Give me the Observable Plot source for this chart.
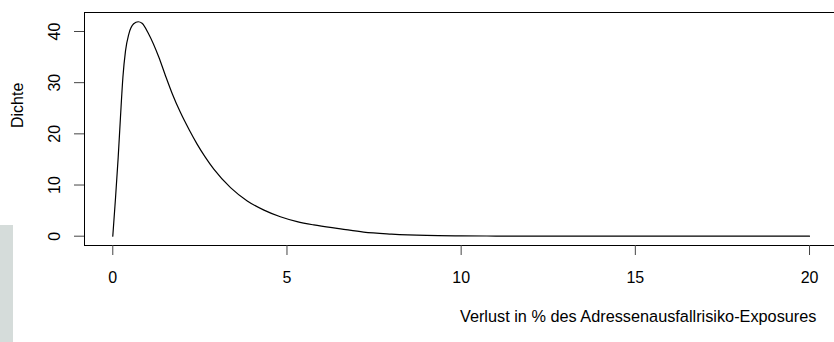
<!DOCTYPE html>
<html>
<head>
<meta charset="utf-8">
<script src="https://cdn.jsdelivr.net/npm/d3@7"></script>
<script src="https://cdn.jsdelivr.net/npm/@observablehq/plot@0.6"></script>
<style>
  html, body { margin: 0; padding: 0; background: #fff; }
  #wrap { position: relative; width: 834px; height: 342px; overflow: hidden; }
  #band { position: absolute; left: 0; top: 225px; width: 13px; height: 117px; background: #d5dcda; }
  #chart { position: absolute; left: 0; top: 0; }
</style>
</head>
<body>
<div id="wrap"><div id="band"></div><div id="chart"></div></div>
<script>
// Loss in % (x) and density (y)
const lossPct = [0, 0.08, 0.155, 0.22, 0.29, 0.365, 0.46, 0.6, 0.73, 0.84, 1.03, 1.32, 1.5, 1.71, 1.94, 2.2, 2.42, 2.65, 2.9, 3.38, 3.86, 4.34, 4.81, 5.29, 5.77, 6.54, 7.2, 8.0, 9.0, 10.0, 11, 12, 14, 16, 18, 20];
const density = [0, 7.6, 15.4, 23.2, 31.0, 36.2, 39.5, 41.5, 41.9, 41.6, 39.5, 35.0, 31.6, 27.8, 24.2, 20.7, 18.0, 15.5, 13.1, 9.5, 6.9, 5.1, 3.8, 2.85, 2.2, 1.44, 0.8, 0.42, 0.15, 0.06, 0.03, 0.01, 0, 0, 0, 0];
const xTicks = [0, 5, 10, 15, 20];
const yTicks = [0, 10, 20, 30, 40];
const xLabel = "Verlust in % des Adressenausfallrisiko-Exposures";
const yLabel = "Dichte";

const data = lossPct.map((x, i) => ({x, y: density[i]}));
const xDomain = [-0.812, 20.717];
const yDomain = [-1.817, 43.71];
const font = "Liberation Sans, Arial, Helvetica, sans-serif";

const chart = Plot.plot({
  width: 834,
  height: 342,
  marginLeft: 84,
  marginRight: 0,
  marginTop: 12,
  marginBottom: 97,
  style: {fontFamily: font, fontSize: "16px", background: "transparent", overflow: "visible"},
  x: {domain: xDomain, axis: null},
  y: {domain: yDomain, axis: null},
  marks: [
    // frame (top, bottom, left)
    Plot.ruleY([yDomain[1], yDomain[0]], {stroke: "#000", strokeWidth: 1}),
    Plot.ruleX([xDomain[0]], {stroke: "#000", strokeWidth: 1}),
    // ticks
    Plot.axisX({ticks: xTicks, tickSize: 10, tickFormat: () => "", stroke: "#444", anchor: "bottom", label: null}),
    Plot.axisY({ticks: yTicks, tickSize: 10, tickFormat: () => "", stroke: "#444", anchor: "left", label: null}),
    // tick labels
    Plot.text(xTicks, {x: d => d, text: d => String(d), frameAnchor: "bottom", dy: 32, lineAnchor: "middle", fill: "#000", fontSize: 16}),
    Plot.text(yTicks, {y: d => d, text: d => String(d), frameAnchor: "left", dx: -30, rotate: -90, lineAnchor: "middle", textAnchor: "middle", fill: "#000", fontSize: 16}),
    // axis titles
    Plot.text([xLabel], {frameAnchor: "bottom-right", dx: -18, dy: 71, textAnchor: "end", lineAnchor: "middle", fill: "#000", fontSize: 16.3}),
    Plot.text([yLabel], {frameAnchor: "left", dx: -67, dy: -23.6, rotate: -90, textAnchor: "middle", lineAnchor: "middle", fill: "#000", fontSize: 16}),
    // density curve
    Plot.line(data, {x: "x", y: "y", stroke: "#000", strokeWidth: 1.2, curve: "monotone-x"})
  ]
});
document.getElementById("chart").appendChild(chart);
</script>
</body>
</html>
